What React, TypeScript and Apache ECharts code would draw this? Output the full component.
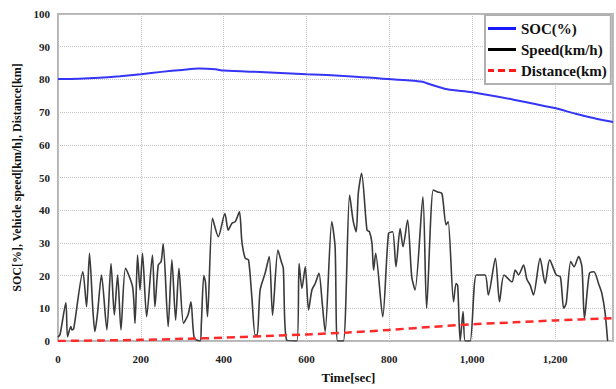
import React, { useEffect, useRef } from "react";
import * as echarts from "echarts";

const socTime = [0, 50, 100, 150, 200, 250, 300, 340, 380, 400, 500, 600, 700, 778, 850, 880, 891, 940, 1000, 1100, 1196, 1250, 1302, 1340];
const socValue = [80.1, 80.2, 80.5, 81.0, 81.6, 82.3, 82.9, 83.3, 83.1, 82.7, 82.2, 81.6, 81.0, 80.3, 79.7, 79.3, 78.8, 77.0, 76.1, 73.8, 71.3, 69.5, 67.9, 67.0];

const speedTime = [0, 5, 19, 23, 31, 34, 38, 60, 69, 76, 84, 89, 95, 105, 118, 128, 136, 144, 152, 163, 180, 186, 192, 198, 204, 214, 228, 234, 242, 249, 254, 266, 275, 284, 292, 303, 314, 321, 329, 343, 346, 352, 356, 361, 373, 387, 403, 411, 420, 428, 438, 444, 452, 460, 468, 476, 481, 488, 500, 510, 518, 531, 539, 544, 552, 577, 582, 589, 597, 605, 613, 621, 630, 638, 645, 661, 669, 675, 689, 704, 713, 720, 725, 733, 746, 752, 758, 762, 767, 784, 798, 808, 816, 826, 833, 844, 854, 862, 881, 890, 906, 917, 927, 937, 942, 955, 961, 965, 971, 978, 983, 995, 1010, 1031, 1039, 1056, 1066, 1077, 1096, 1104, 1112, 1124, 1132, 1140, 1148, 1164, 1176, 1187, 1203, 1213, 1221, 1227, 1238, 1246, 1257, 1265, 1271, 1283, 1294, 1305, 1313, 1321, 1327];
const speedValue = [1.2, 2.0, 11.7, 1.3, 4.4, 3.4, 3.8, 21.2, 10.5, 26.8, 10.0, 2.9, 8.0, 20.2, 3.4, 23.7, 8.0, 20.2, 3.4, 22.2, 16.6, 5.4, 26.3, 15.6, 26.8, 7.4, 26.3, 10.5, 23.2, 24.3, 29.7, 4.4, 24.8, 6.4, 22.2, 5.4, 8.0, 12.0, 0.8, 0, 5.0, 20.0, 18.0, 7.4, 37.5, 31.9, 39.0, 33.9, 36.0, 36.5, 39.5, 30.4, 25.3, 24.8, 13.5, 1.8, 1.8, 15.6, 20.7, 25.8, 7.9, 27.8, 24.3, 22.2, 0.3, 0, 23.7, 16.1, 22.7, 9.5, 15.6, 17.6, 20.7, 11.5, 2.9, 36.5, 28.8, 0, 0, 44.6, 36.5, 33.4, 45.1, 51.3, 33.9, 33.4, 29.9, 21.7, 26.8, 7.4, 32.9, 33.4, 22.7, 34.4, 28.8, 37.0, 19.7, 15.6, 44.1, 10.0, 46.2, 45.6, 45.1, 35.5, 36.5, 12.0, 17.6, 17.0, 0, 9.0, 0, 0, 20.2, 20.2, 14.1, 25.3, 12.0, 20.2, 18.1, 21.7, 20.2, 23.2, 18.9, 17.1, 14.1, 25.3, 17.6, 24.8, 20.2, 19.6, 10.0, 11.5, 24.3, 22.7, 25.8, 22.7, 6.9, 20.7, 21.2, 17.6, 14.6, 8.5, 0];

const distTime = [0, 100, 200, 300, 400, 500, 600, 700, 800, 900, 1000, 1100, 1200, 1340];
const distValue = [0, 0.15, 0.35, 0.65, 1.0, 1.5, 2.0, 2.6, 3.4, 4.3, 5.1, 5.7, 6.3, 7.0];

const xTicks = { min: 0, max: 1340, interval: 200 };
const yTicks = { min: 0, max: 100, interval: 10 };

const FONT = "'Liberation Serif', 'Times New Roman', serif";
const SOLID_ICON = "path://M0,0h28v3h-28z";
const DASH_ICON = "path://M0,0h6v3h-6z M10,0h7v3h-7z M21,0h7v3h-7z";

function zip(a: number[], b: number[]) {
  return a.map((t, i) => [t, b[i]]);
}

export default function App() {
  const ref = useRef<HTMLDivElement>(null);
  useEffect(() => {
    if (!ref.current) return;
    const chart = echarts.init(ref.current, undefined, { renderer: "svg" });
    chart.setOption({
      animation: false,
      backgroundColor: "#ffffff",
      grid: {
        left: 58,
        right: 3,
        top: 14,
        bottom: 48,
        show: true,
        borderColor: "#b5b5b5",
        borderWidth: 2,
        backgroundColor: "transparent",
      },
      legend: {
        orient: "vertical",
        left: 485,
        top: 15,
        backgroundColor: "#ffffff",
        borderColor: "#b0b0b0",
        borderWidth: 2,
        borderRadius: 0,
        padding: [6, 4, 6, 3],
        itemGap: 6,
        itemWidth: 28,
        itemHeight: 3,
        textStyle: { fontFamily: FONT, fontWeight: "bold", fontSize: 15, color: "#111" },
        data: [
          { name: "SOC(%)", icon: SOLID_ICON },
          { name: "Speed(km/h)", icon: SOLID_ICON },
          { name: "Distance(km)", icon: DASH_ICON },
        ],
      },
      xAxis: {
        type: "value",
        min: xTicks.min,
        max: xTicks.max,
        interval: xTicks.interval,
        name: "Time[sec]",
        nameLocation: "middle",
        nameGap: 30,
        nameTextStyle: { fontFamily: FONT, fontWeight: "bold", fontSize: 13, color: "#111", padding: [0, 0, 0, 26] },
        axisLine: { show: false },
        axisTick: { show: false },
        axisLabel: {
          fontFamily: FONT,
          fontWeight: "bold",
          fontSize: 11,
          color: "#222",
          margin: 12,
          showMaxLabel: false,
          formatter: (v: number) => v.toLocaleString("en-US"),
        },
        splitLine: { show: true, lineStyle: { color: "#c4c4c4", type: "dotted", width: 1 } },
      },
      yAxis: {
        type: "value",
        min: yTicks.min,
        max: yTicks.max,
        interval: yTicks.interval,
        name: "SOC[%], Vehicle speed[km/h], Distance[km]",
        nameLocation: "middle",
        nameGap: 35,
        nameTextStyle: { fontFamily: FONT, fontWeight: "bold", fontSize: 12, color: "#111" },
        axisLine: { show: false },
        axisTick: { show: false },
        axisLabel: { fontFamily: FONT, fontWeight: "bold", fontSize: 11, color: "#222", margin: 8 },
        splitLine: { show: true, lineStyle: { color: "#c4c4c4", type: "dotted", width: 1 } },
      },
      series: [
        {
          name: "SOC(%)",
          type: "line",
          data: zip(socTime, socValue),
          symbol: "none",
          smooth: 0.3,
          lineStyle: { color: "#3535f5", width: 2 },
          itemStyle: { color: "#1a1aff" },
          z: 3,
        },
        {
          name: "Speed(km/h)",
          type: "line",
          data: zip(speedTime, speedValue),
          symbol: "none",
          smooth: 0.25,
          lineStyle: { color: "#3a3a3a", width: 1.6 },
          itemStyle: { color: "#000000" },
          z: 2,
        },
        {
          name: "Distance(km)",
          type: "line",
          data: zip(distTime, distValue),
          symbol: "none",
          smooth: 0.3,
          lineStyle: { color: "#ff2a2a", width: 2.5, type: [8, 5] },
          itemStyle: { color: "#ff1a1a" },
          z: 4,
        },
      ],
    });
    return () => chart.dispose();
  }, []);
  return <div ref={ref} style={{ width: 616, height: 389, position: "absolute", left: 0, top: 0 }} />;
}
